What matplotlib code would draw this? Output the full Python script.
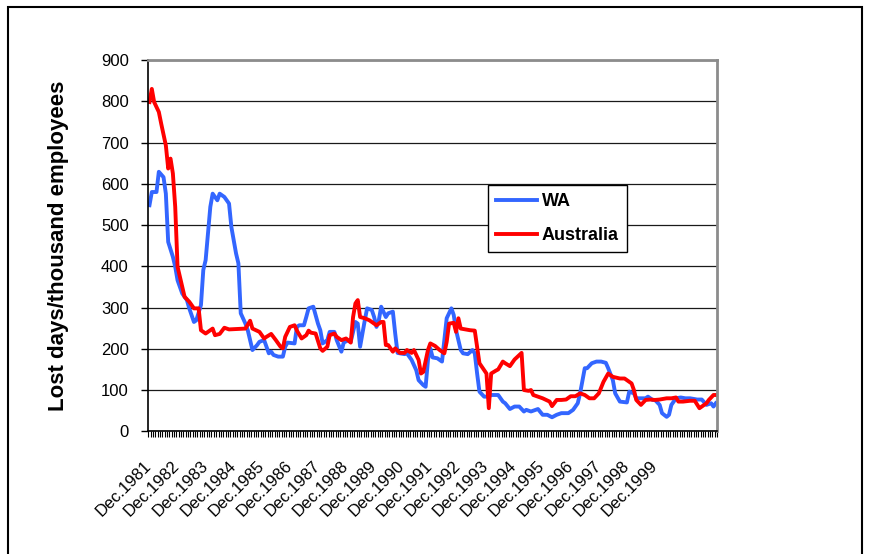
import matplotlib
matplotlib.use("Agg")
import matplotlib.pyplot as plt
import matplotlib.transforms as mtransforms
from matplotlib.patches import Rectangle
from matplotlib.ticker import MultipleLocator, FixedLocator

plt.rcParams['font.family'] = ['Liberation Sans', 'DejaVu Sans']

# months counted from Dec.1981 (0) ; values read at the turning points of each line
wa_month = [0, 1, 3, 4, 6, 7, 8, 10, 11, 12, 14, 16, 17, 19, 20, 22, 23, 24, 26, 27,
            29, 30, 32, 34, 35, 37, 38, 39, 41, 42, 44, 46, 47, 49, 51, 52, 53, 55, 57, 58,
            59, 62, 63, 64, 66, 67, 68, 70, 72, 73, 74, 76, 77, 79, 80, 82, 83, 85, 86, 88,
            89, 90, 92, 93, 95, 96, 97, 98, 99, 101, 102, 104, 105, 106, 109, 110, 112, 114, 115, 117,
            118, 119, 120, 121, 123, 125, 127, 129, 130, 131, 133, 134, 136, 138, 139, 140, 141, 143, 145, 146,
            149, 151, 152, 154, 156, 158, 160, 161, 163, 164, 166, 168, 170, 172, 174, 176, 179, 181, 183, 184,
            186, 187, 189, 191, 193, 195, 196, 198, 199, 201, 204, 205, 207, 208, 212, 213, 215, 216, 218, 219,
            221, 222, 223, 225, 227, 229, 231, 234, 236, 238, 240, 241, 242]
wa_value = [548, 580, 580, 629, 616, 576, 459, 423, 399, 366, 334, 318, 298, 265, 269, 306, 391, 415, 544, 576,
            560, 576, 568, 552, 495, 431, 407, 286, 261, 245, 197, 209, 217, 221, 189, 193, 185, 181, 181, 205,
            215, 213, 253, 257, 257, 277, 298, 302, 261, 245, 213, 221, 241, 241, 221, 193, 215, 221, 217, 265,
            261, 205, 269, 298, 294, 277, 253, 269, 302, 277, 286, 290, 237, 190, 187, 189, 173, 148, 124, 112,
            108, 173, 201, 179, 177, 169, 274, 298, 282, 245, 197, 189, 187, 197, 189, 140, 96, 84, 84, 88,
            88, 72, 68, 54, 60, 60, 48, 52, 48, 50, 54, 40, 40, 34, 40, 44, 44, 52, 68, 92,
            153, 153, 165, 169, 169, 166, 153, 124, 92, 72, 70, 96, 92, 80, 80, 84, 76, 76, 64, 44,
            35, 40, 64, 80, 82, 80, 80, 77, 77, 64, 68, 60, 68]

aus_month = [0, 1, 2, 4, 5, 7, 8, 9, 10, 11, 12, 14, 15, 17, 19, 21, 22, 24, 25, 27,
             28, 30, 32, 34, 41, 43, 44, 47, 49, 50, 52, 54, 56, 57, 58, 60, 62, 63, 65, 67,
             68, 69, 71, 73, 74, 76, 77, 79, 80, 82, 84, 86, 87, 88, 89, 90, 92, 94, 96, 97,
             99, 100, 101, 102, 104, 105, 107, 109, 110, 112, 113, 115, 116, 117, 119, 120, 122, 124, 126, 127,
             128, 130, 131, 132, 133, 135, 137, 139, 140, 141, 144, 145, 146, 148, 149, 151, 152, 154, 156, 159,
             160, 162, 163, 164, 166, 168, 171, 172, 174, 176, 178, 180, 182, 184, 186, 188, 190, 192, 194, 196,
             198, 201, 203, 206, 207, 208, 210, 212, 214, 216, 218, 221, 223, 225, 226, 228, 231, 233, 235, 236,
             238, 239, 241, 242]
aus_value = [798, 830, 798, 774, 746, 693, 637, 661, 625, 544, 399, 350, 326, 314, 298, 298, 245, 237, 241, 249,
             233, 236, 251, 247, 249, 268, 249, 241, 225, 229, 236, 221, 205, 201, 229, 253, 257, 244, 225, 233,
             244, 239, 237, 201, 195, 205, 233, 237, 229, 221, 225, 215, 277, 310, 318, 277, 274, 269, 261, 257,
             265, 265, 209, 209, 193, 201, 190, 190, 197, 190, 197, 173, 140, 144, 197, 213, 207, 197, 189, 217,
             261, 263, 241, 274, 249, 247, 245, 244, 205, 165, 140, 56, 140, 147, 150, 169, 165, 158, 174, 190,
             100, 98, 100, 88, 84, 80, 72, 61, 76, 76, 77, 85, 85, 92, 88, 80, 80, 92, 120, 140,
             132, 128, 128, 116, 100, 76, 64, 76, 77, 76, 77, 80, 80, 82, 72, 72, 74, 74, 56, 60,
             68, 76, 88, 88]

n_months = 243
label_months = list(range(0, 217, 12))
label_text = ['Dec.%d' % y for y in range(1981, 2000)]

fig = plt.figure(figsize=(8.71, 5.54), dpi=100)
ax = fig.add_axes([148.3 / 871, 1 - 431.3 / 554, 568.7 / 871, 371.3 / 554])

ax.plot(wa_month, wa_value, '-', color='#3366ff', lw=2.8, label='WA', solid_joinstyle='round')
ax.plot(aus_month, aus_value, '-', color='#ff0000', lw=2.8, label='Australia', solid_joinstyle='round')

ax.set_xlim(-0.5, n_months - 0.5)
ax.set_ylim(0, 900)
ax.yaxis.set_major_locator(MultipleLocator(100))
ax.grid(axis='y', color='#1a1a1a', lw=0.9)
ax.set_axisbelow(True)

ax.xaxis.set_major_locator(FixedLocator(label_months))
ax.set_xticklabels(label_text, rotation=45, ha='right', va='top', fontsize=12)
ax.xaxis.set_minor_locator(FixedLocator([m - 0.5 for m in range(n_months + 1)]))
ax.tick_params(axis='x', which='major', length=0, pad=19)
ax.tick_params(axis='x', which='minor', length=4, width=0.8, color='black')
ax.tick_params(axis='y', which='major', length=5, width=1, pad=9, labelsize=12)
shift = mtransforms.ScaledTranslation(5 / 100, 0, fig.dpi_scale_trans)
for lbl in ax.get_xticklabels():
    lbl.set_transform(lbl.get_transform() + shift)

for side in ['left', 'bottom']:
    ax.spines[side].set_color('black')
    ax.spines[side].set_linewidth(1.2)
for side in ['top', 'right']:
    ax.spines[side].set_color('#8c8c8c')
    ax.spines[side].set_linewidth(2)

ax.set_ylabel('Lost days/thousand employees', fontsize=16, fontweight='bold')
ax.yaxis.set_label_coords(-0.139, 0.5)

leg = ax.legend(loc='upper left', bbox_to_anchor=(0.597, 0.663), borderaxespad=0,
                fancybox=False, edgecolor='black', framealpha=1,
                prop={'size': 13, 'weight': 'bold'}, handlelength=2.3,
                handletextpad=0.25, labelspacing=0.92, borderpad=0.45)
leg.get_frame().set_linewidth(1)

fig.patches.append(Rectangle((8 / 871, -0.05), 854 / 871, 1 - 7 / 554 + 0.05,
                             transform=fig.transFigure, fill=False, lw=1.5,
                             edgecolor='black', clip_on=False))

fig.savefig('out.png', dpi=100)
